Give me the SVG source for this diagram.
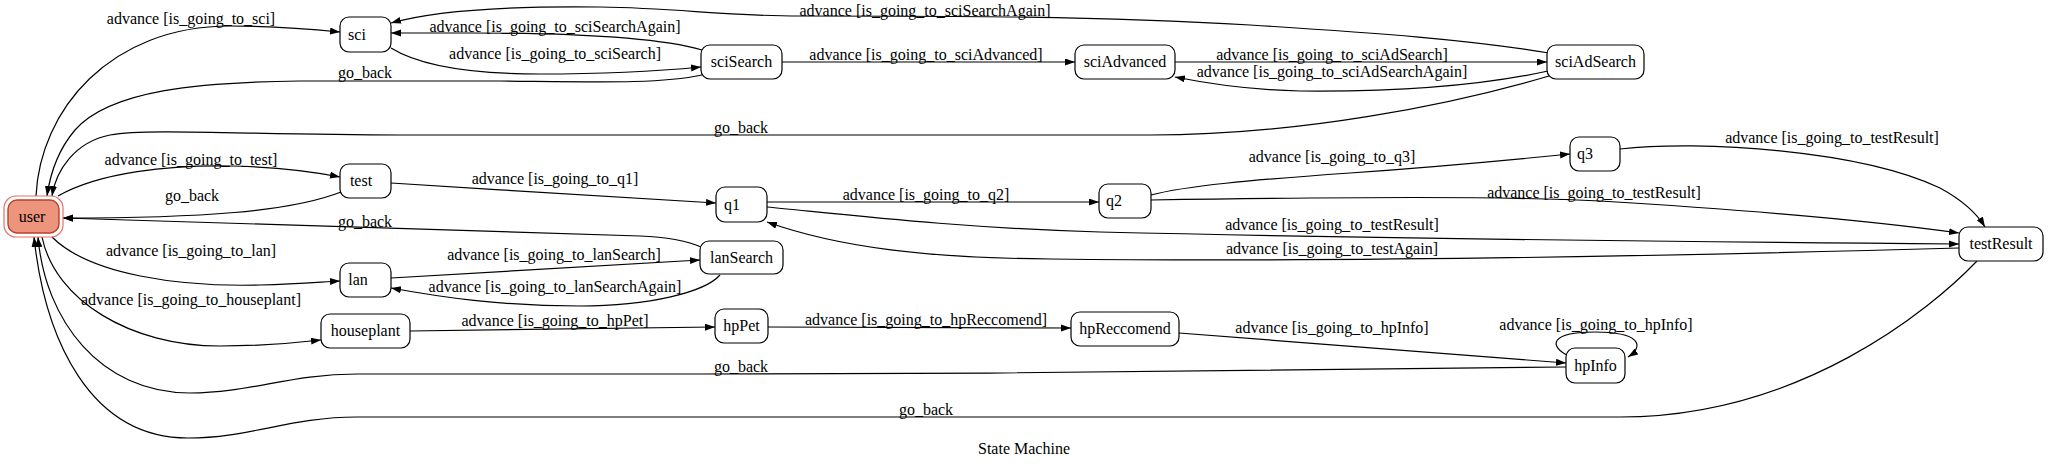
<svg xmlns="http://www.w3.org/2000/svg" width="2048" height="465" viewBox="0 0 2048 465">
<style>
text{font-family:"Liberation Serif","Times New Roman",serif;font-size:16px;fill:#000;text-anchor:middle}
.n rect{fill:#fff;stroke:#000;stroke-width:1.2}
.e path{fill:none;stroke:#000;stroke-width:1.2}
</style>
<defs>
<marker id="a" markerUnits="userSpaceOnUse" markerWidth="11" markerHeight="8" refX="10" refY="3.5" orient="auto"><path d="M0,0 L10,3.5 L0,7 z" fill="#000"/></marker>
</defs>
<rect width="2048" height="465" fill="#fff"/>
<g id="connectors" class="e">
<path marker-end="url(#a)" d="M36,196 C40,110 110,26 230,26 C275,26 310,29 340,32"/>
<path marker-end="url(#a)" d="M391,48 C420,66 470,74 540,74 C610,74 660,71 701,67"/>
<path marker-end="url(#a)" d="M702,50 C660,38 570,33 470,33 C440,33 410,33 391,33"/>
<path marker-end="url(#a)" d="M1549,53 C1470,40 1380,33 1250,25 C1100,16 950,16 800,16 C720,16 680,8 600,7 C520,6 440,9 391,23"/>
<path marker-end="url(#a)" d="M702,75 C660,84 600,82 500,81 L300,81 C200,82 110,90 75,130 C58,150 50,175 47,196"/>
<path marker-end="url(#a)" d="M1549,76 C1450,105 1300,135 1150,135 L400,135 C250,135 150,128 110,135 C75,142 56,170 52,196"/>
<path marker-end="url(#a)" d="M782,62 L1075,62"/>
<path marker-end="url(#a)" d="M1175,62 L1547,62"/>
<path marker-end="url(#a)" d="M1548,71 C1480,86 1400,92 1300,91 C1250,90 1210,84 1175,77"/>
<path marker-end="url(#a)" d="M58,196 C100,172 170,165 230,166 C280,167 315,172 340,177"/>
<path marker-end="url(#a)" d="M341,192 C290,212 200,218 63,218"/>
<path marker-end="url(#a)" d="M391,183 C500,190 620,197 716,203"/>
<path marker-end="url(#a)" d="M701,247 C685,240 665,237 640,236 L63,218"/>
<path marker-end="url(#a)" d="M52,237 C90,275 180,287 260,285 C300,284 320,282 340,281"/>
<path marker-end="url(#a)" d="M391,278 L700,260"/>
<path marker-end="url(#a)" d="M720,275 C705,292 650,306 580,306 C500,306 440,297 391,288"/>
<path marker-end="url(#a)" d="M42,237 C55,300 130,346 220,346 C265,346 295,343 321,340"/>
<path marker-end="url(#a)" d="M410,331 L715,327"/>
<path marker-end="url(#a)" d="M768,327 L1071,328"/>
<path marker-end="url(#a)" d="M1179,333 L1566,363"/>
<path marker-end="url(#a)" d="M1569,356 C1548,346 1550,332 1595,332 C1640,332 1645,346 1628,357"/>
<path marker-end="url(#a)" d="M1566,367 C1400,370 1000,374 700,374 L357,374 C290,374 250,393 190,393 C100,393 45,320 38,237"/>
<path marker-end="url(#a)" d="M1977,261 C1930,310 1800,417 1620,417 L357,417 C290,417 250,438 188,438 C90,438 45,340 34,237"/>
<path marker-end="url(#a)" d="M767,202 L1099,202"/>
<path marker-end="url(#a)" d="M1151,195 C1185,186 1250,180 1350,173 C1450,166 1520,159 1570,154"/>
<path marker-end="url(#a)" d="M1151,200 C1350,197 1500,196 1600,201 C1750,210 1880,222 1959,233"/>
<path marker-end="url(#a)" d="M767,207 C850,215 960,228 1100,232 C1400,239 1700,242 1959,244"/>
<path marker-end="url(#a)" d="M1959,248 C1600,258 1300,262 1050,259 C930,258 840,248 767,222"/>
<path marker-end="url(#a)" d="M1620,149 C1700,140 1860,150 1940,188 C1962,200 1976,212 1985,227"/>
<text x="191" y="24">advance [is_going_to_sci]</text>
<text x="925" y="16">advance [is_going_to_sciSearchAgain]</text>
<text x="555" y="32">advance [is_going_to_sciSearchAgain]</text>
<text x="555" y="59">advance [is_going_to_sciSearch]</text>
<text x="365" y="78">go_back</text>
<text x="926" y="60">advance [is_going_to_sciAdvanced]</text>
<text x="1332" y="60">advance [is_going_to_sciAdSearch]</text>
<text x="1332" y="77">advance [is_going_to_sciAdSearchAgain]</text>
<text x="741" y="133">go_back</text>
<text x="191" y="165">advance [is_going_to_test]</text>
<text x="192" y="201">go_back</text>
<text x="555" y="184">advance [is_going_to_q1]</text>
<text x="365" y="227">go_back</text>
<text x="191" y="256">advance [is_going_to_lan]</text>
<text x="554" y="260">advance [is_going_to_lanSearch]</text>
<text x="555" y="292">advance [is_going_to_lanSearchAgain]</text>
<text x="191" y="305">advance [is_going_to_houseplant]</text>
<text x="555" y="326">advance [is_going_to_hpPet]</text>
<text x="926" y="325">advance [is_going_to_hpReccomend]</text>
<text x="1332" y="333">advance [is_going_to_hpInfo]</text>
<text x="1596" y="330">advance [is_going_to_hpInfo]</text>
<text x="741" y="372">go_back</text>
<text x="926" y="415">go_back</text>
<text x="926" y="200">advance [is_going_to_q2]</text>
<text x="1332" y="162">advance [is_going_to_q3]</text>
<text x="1594" y="198">advance [is_going_to_testResult]</text>
<text x="1332" y="230">advance [is_going_to_testResult]</text>
<text x="1332" y="254">advance [is_going_to_testAgain]</text>
<text x="1832" y="143">advance [is_going_to_testResult]</text>
</g>
<g id="user"><rect x="4" y="196" width="59" height="41" rx="12" fill="none" stroke="#e8706a" stroke-width="1.2"/><rect x="8" y="200" width="51" height="33" rx="9" fill="#ec957c" stroke="#b5412f" stroke-width="1.4"/><text x="32" y="222">user</text></g>
<g id="sci" class="n"><rect x="340" y="17" width="51" height="35" rx="9"/><text x="357" y="40">sci</text></g>
<g id="test" class="n"><rect x="340" y="164" width="51" height="34" rx="9"/><text x="361" y="186">test</text></g>
<g id="lan" class="n"><rect x="340" y="263" width="51" height="34" rx="9"/><text x="358" y="285">lan</text></g>
<g id="houseplant" class="n"><rect x="321" y="314" width="89" height="34" rx="9"/><text x="365.5" y="336">houseplant</text></g>
<g id="sciSearch" class="n"><rect x="701" y="45" width="81" height="34" rx="9"/><text x="741.5" y="67">sciSearch</text></g>
<g id="q1" class="n"><rect x="716" y="187" width="51" height="35" rx="9"/><text x="732" y="210">q1</text></g>
<g id="lanSearch" class="n"><rect x="700" y="241" width="83" height="33" rx="9"/><text x="741.5" y="263">lanSearch</text></g>
<g id="hpPet" class="n"><rect x="715" y="309" width="53" height="34" rx="9"/><text x="741.5" y="331">hpPet</text></g>
<g id="sciAdvanced" class="n"><rect x="1075" y="45" width="100" height="34" rx="9"/><text x="1125" y="67">sciAdvanced</text></g>
<g id="q2" class="n"><rect x="1099" y="184" width="52" height="34" rx="9"/><text x="1114" y="206">q2</text></g>
<g id="hpReccomend" class="n"><rect x="1071" y="312" width="108" height="34" rx="9"/><text x="1125" y="334">hpReccomend</text></g>
<g id="sciAdSearch" class="n"><rect x="1547" y="45" width="97" height="34" rx="9"/><text x="1595.5" y="67">sciAdSearch</text></g>
<g id="q3" class="n"><rect x="1570" y="137" width="50" height="34" rx="9"/><text x="1585" y="159">q3</text></g>
<g id="hpInfo" class="n"><rect x="1566" y="348" width="59" height="35" rx="9"/><text x="1595.5" y="371">hpInfo</text></g>
<g id="testResult" class="n"><rect x="1959" y="227" width="84" height="34" rx="9"/><text x="2001" y="249">testResult</text></g>
<text x="1024" y="454">State Machine</text>
</svg>
